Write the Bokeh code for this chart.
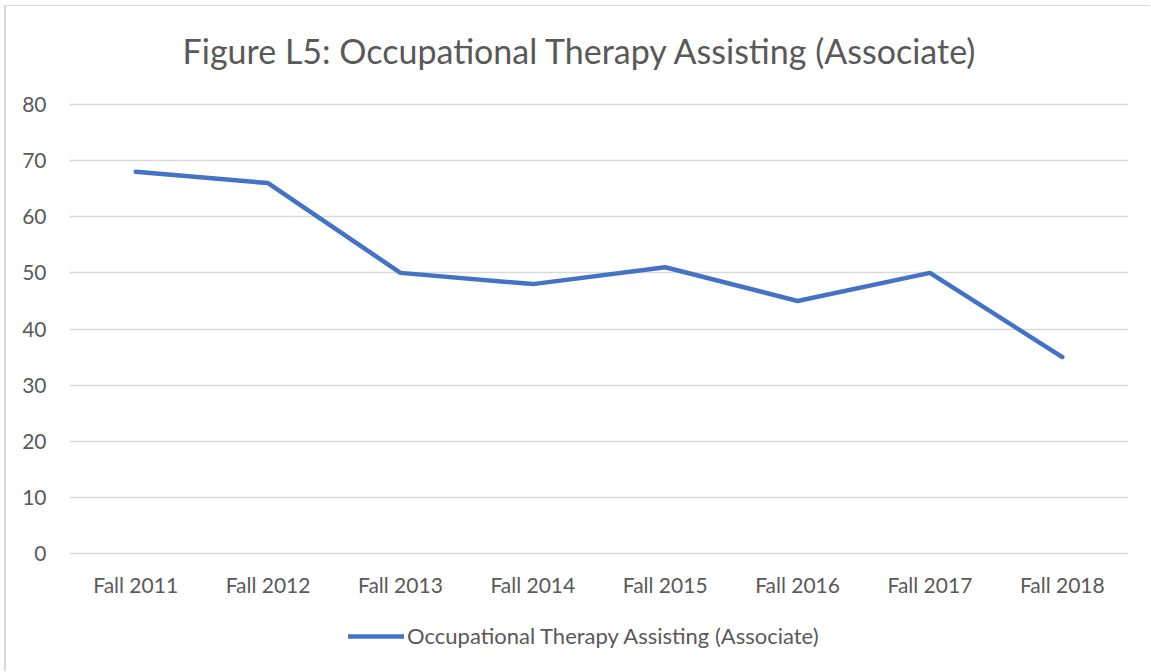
from bokeh.plotting import figure
from bokeh.models import Legend, LegendItem, Label, ColumnDataSource
from bokeh.layouts import column
from bokeh.embed import file_html
from bokeh.resources import INLINE

categories = ["Fall 2011", "Fall 2012", "Fall 2013", "Fall 2014",
              "Fall 2015", "Fall 2016", "Fall 2017", "Fall 2018"]
values = [68, 66, 50, 48, 51, 45, 50, 35]
series_name = "Occupational Therapy Assisting (Associate)"
title_text = "Figure L5: Occupational Therapy Assisting (Associate)"
y_ticks = [0, 10, 20, 30, 40, 50, 60, 70, 80]

FONT = "Lato"
TXT = "#595959"
GRID = "#D9D9D9"
BLUE = "#4472C4"

# frame spans the full chart height: title above 80 and legend below 0 live inside it
p = figure(x_range=categories, y_range=(-19.06, 97.46), width=1144, height=665,
           output_backend="svg", toolbar_location=None,
           min_border_left=63, min_border_right=22, min_border_top=0,
           min_border_bottom=11)

src = ColumnDataSource(dict(x=categories, y=values))
r = p.line("x", "y", source=src, line_color=BLUE, line_width=4.5,
           line_cap="round", line_join="round")

title = Label(text=title_text, x=511, y=610, x_units="screen", y_units="screen",
              text_align="center", text_baseline="middle", text_font=FONT,
              text_font_size="34px", text_color=TXT)
p.add_layout(title)

p.x_range.range_padding = 0
p.yaxis.ticker = y_ticks
p.ygrid.ticker = y_ticks
p.ygrid.grid_line_color = GRID
p.ygrid.grid_line_width = 1.5
p.xgrid.grid_line_color = None
p.outline_line_color = None
p.xaxis.fixed_location = 0

for ax in (p.xaxis[0], p.yaxis[0]):
    ax.axis_line_color = None
    ax.major_tick_line_color = None
    ax.minor_tick_line_color = None
    ax.major_label_text_font = FONT
    ax.major_label_text_font_size = "21px"
    ax.major_label_text_color = TXT
p.yaxis.major_label_standoff = 17
p.xaxis.major_label_standoff = 12

legend = Legend(items=[LegendItem(label=series_name, renderers=[r])],
                orientation="horizontal", location=(279, 11),
                label_text_font=FONT, label_text_font_size="22px",
                label_text_color=TXT, glyph_width=56, label_standoff=3,
                border_line_color=None, background_fill_alpha=0,
                margin=0, padding=0)
p.add_layout(legend, "center")

layout = column(p, styles={"margin-left": "4px", "margin-top": "5px",
                           "border-left": "2px solid #D9D9D9",
                           "border-top": "1px solid #D9D9D9"})
open("out.html", "w").write(file_html(layout, INLINE))
